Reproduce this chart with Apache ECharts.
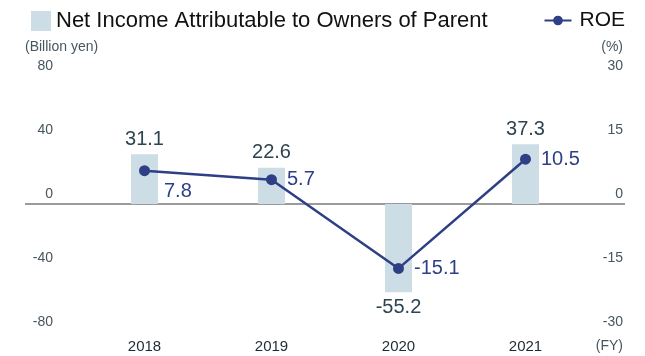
<!DOCTYPE html>
<html><head><meta charset="utf-8">
<script src="https://cdn.jsdelivr.net/npm/echarts@6/dist/echarts.min.js"></script>
<style>html,body{margin:0;padding:0;background:#fff}#c{width:645px;height:356px}</style>
</head><body><div id="c"></div>
<script>
const categories = ['2018', '2019', '2020', '2021'];
const netIncome = [31.1, 22.6, -55.2, 37.3];
const roe = [7.8, 5.7, -15.1, 10.5];
const leftTicks = [-80, -40, 0, 40, 80];
const rightTicks = [-30, -15, 0, 15, 30];
const barName = 'Net Income Attributable to Owners of Parent';
const lineName = 'ROE';

const FONT = '"Liberation Sans", Arial, sans-serif';
const BAR = '#cddde6';
const NAVY = '#2e3f86';
const GRAY = '#46565f';

const chart = echarts.init(document.getElementById('c'));
chart.setOption({
  animation: false,
  textStyle: { fontFamily: FONT },
  grid: { left: 81, right: 56, top: 76, bottom: 24 },
  legend: [
    { data: [barName], left: 26, top: 5, icon: 'rect', itemWidth: 20, itemHeight: 20, itemGap: 8,
      textStyle: { fontSize: 22, color: '#111', fontFamily: FONT } },
    { data: [lineName], right: 15, top: 5, itemWidth: 27, itemHeight: 12,
      textStyle: { fontSize: 21, color: '#111', fontFamily: FONT, padding: [0, 0, 0, 3] } }
  ],
  xAxis: {
    type: 'category', data: categories,
    axisLine: { show: false }, axisTick: { show: false },
    axisLabel: { fontSize: 15, color: '#1e2a33', margin: 7 }
  },
  yAxis: [
    { type: 'value', min: leftTicks[0], max: leftTicks[leftTicks.length - 1], interval: 40,
      splitLine: { show: false }, axisLine: { show: false }, axisTick: { show: false },
      axisLabel: { fontSize: 14, color: GRAY, margin: 28, verticalAlign: 'bottom', lineHeight: 20 } },
    { type: 'value', min: rightTicks[0], max: rightTicks[rightTicks.length - 1], interval: 15,
      splitLine: { show: false }, axisLine: { show: false }, axisTick: { show: false },
      axisLabel: { fontSize: 14, color: GRAY, margin: 34, align: 'right', verticalAlign: 'bottom', lineHeight: 20 } }
  ],
  series: [
    { name: barName, type: 'bar', yAxisIndex: 0, barWidth: 27, itemStyle: { color: BAR },
      data: netIncome.map(v => ({ value: v, label: { position: v < 0 ? 'bottom' : 'top' } })),
      label: { show: true, fontSize: 20, color: '#2e4451', distance: 5 } },
    { name: lineName, type: 'line', yAxisIndex: 1, symbol: 'circle', symbolSize: 11,
      itemStyle: { color: NAVY }, lineStyle: { color: NAVY, width: 2.5 },
      data: roe.map((v, i) => i === 0
        ? { value: v, label: { position: 'right', offset: [4, 21] } }
        : { value: v }),
      label: { show: true, position: 'right', distance: 10, fontSize: 20, color: NAVY }, z: 5 }
  ]
});
const y0 = chart.convertToPixel({ yAxisIndex: 0 }, 0);
chart.setOption({
  graphic: [
    { type: 'line', shape: { x1: 25, y1: y0, x2: 625, y2: y0 }, style: { stroke: '#7a7a7a', lineWidth: 1.5 }, z: 1 },
    { type: 'text', left: 25, top: 40, style: { text: '(Billion yen)', fontSize: 14, fill: GRAY, fontFamily: FONT } },
    { type: 'text', right: 22, top: 40, style: { text: '(%)', fontSize: 14, fill: GRAY, fontFamily: FONT } },
    { type: 'text', right: 22, top: 339, style: { text: '(FY)', fontSize: 14, fill: GRAY, fontFamily: FONT } }
  ]
});
</script></body></html>
